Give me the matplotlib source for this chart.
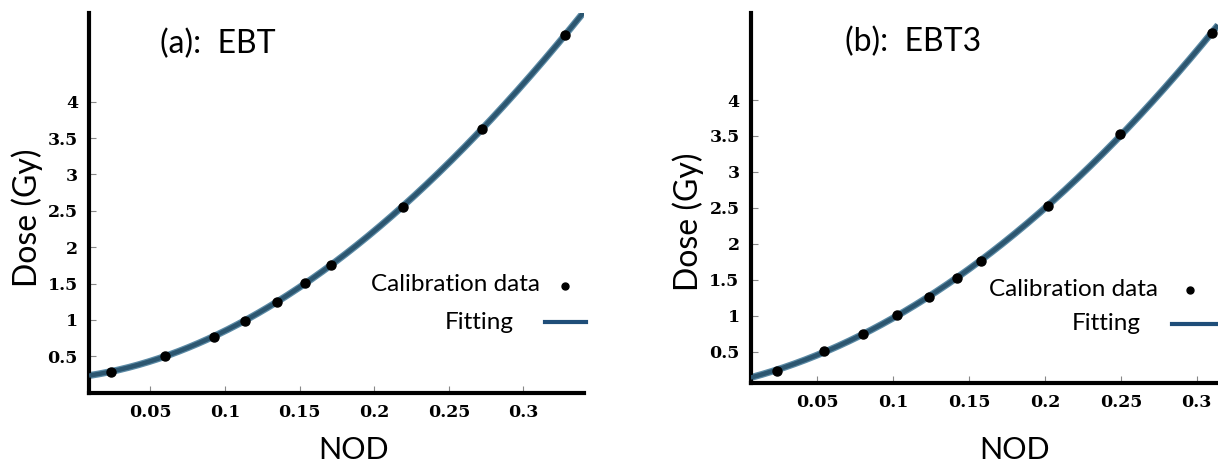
import numpy as np
import matplotlib
matplotlib.use("Agg")
import matplotlib.pyplot as plt
from matplotlib.lines import Line2D

# ---- data ----
nod_ebt = [0.0237, 0.0595, 0.0925, 0.1134, 0.135, 0.1539, 0.1709, 0.219, 0.272, 0.328]
dose_ebt = [0.29, 0.505, 0.77, 0.986, 1.25, 1.514, 1.757, 2.556, 3.62, 4.92]

nod_ebt3 = [0.0233, 0.0546, 0.0798, 0.1021, 0.1235, 0.1418, 0.1581, 0.2021, 0.2497, 0.310]
dose_ebt3 = [0.234, 0.509, 0.752, 1.005, 1.262, 1.523, 1.757, 2.53, 3.53, 4.93]

x_ticks = [0.05, 0.1, 0.15, 0.2, 0.25, 0.3]
x_ticklabels = ["0.05", "0.1", "0.15", "0.2", "0.25", "0.3"]
y_ticks = [0.5, 1, 1.5, 2, 2.5, 3, 3.5, 4]
y_ticklabels = ["0.5", "1", "1.5", "2", "2.5", "3", "3.5", "4"]

titles = ["(a):  EBT", "(b):  EBT3"]
legend_labels = ["Calibration data", "Fitting"]
xlabel = "NOD"
ylabel = "Dose (Gy)"

W, H = 1218, 473
fig = plt.figure(figsize=(W / 100, H / 100), dpi=100)
fig.patch.set_facecolor("white")

SANS = ["Lato", "DejaVu Sans"]
CURVE = "#2c5670"
LEGLINE = "#1f4e79"

panels = [
    dict(x=nod_ebt, y=dose_ebt, title=titles[0],
         rect=[89 / W, 1 - 392.7 / H, (584 - 89) / W, (392.7 - 13) / H],
         xlim=(0.0088, 0.3406), ylim=(0.0, 5.22),
         title_xy=(218, 44), ylabel_xy=(27, 218), xlabel_xy=(354, 450),
         cal_text=(540, 284), cal_mark=(565, 286),
         fit_text=(514, 322), fit_line=(545, 586, 322)),
    dict(x=nod_ebt3, y=dose_ebt3, title=titles[1],
         rect=[750.7 / W, 1 - 383.3 / H, (1218 - 750.7) / W, (383.3 - 13) / H],
         xlim=(0.006, 0.314), ylim=(0.06, 5.21),
         title_xy=(913, 42), ylabel_xy=(688, 222), xlabel_xy=(1015, 450),
         cal_text=(1158, 290), cal_mark=(1190, 290),
         fit_text=(1141, 324), fit_line=(1172, 1218, 324)),
]

def fx(px):
    return px / W

def fy(py):
    return 1 - py / H

for p in panels:
    ax = fig.add_axes(p["rect"])
    ax.set_xlim(*p["xlim"])
    ax.set_ylim(*p["ylim"])
    # fitted curve from calibration data
    coef = np.polyfit(p["x"], p["y"], 3)
    xs = np.linspace(p["xlim"][0], p["xlim"][1], 300)
    ax.plot(xs, np.polyval(coef, xs), color="#5b8aa5", lw=5.0, solid_capstyle="butt", zorder=2)
    ax.plot(xs, np.polyval(coef, xs), color=CURVE, lw=3.2, solid_capstyle="butt", zorder=3)
    ax.plot(p["x"], p["y"], "o", color="black", ms=6.5, zorder=4)

    for s in ["top", "right"]:
        ax.spines[s].set_visible(False)
    for s in ["left", "bottom"]:
        ax.spines[s].set_linewidth(3.0)
        ax.spines[s].set_color("black")
    ax.set_xticks(x_ticks)
    ax.set_xticklabels(x_ticklabels)
    ax.set_yticks(y_ticks)
    ax.set_yticklabels(y_ticklabels)
    ax.tick_params(direction="in", length=5, width=0.8, color="#888888",
                   labelsize=12.5, pad=8)
    for lab in ax.get_xticklabels() + ax.get_yticklabels():
        lab.set_family("DejaVu Serif")
        lab.set_fontweight("bold")

    fig.text(fx(p["title_xy"][0]), fy(p["title_xy"][1]), p["title"], family=SANS,
             fontsize=23, ha="center", va="center")
    fig.text(fx(p["ylabel_xy"][0]), fy(p["ylabel_xy"][1]), ylabel, family=SANS,
             fontsize=23, ha="center", va="center", rotation=90)
    fig.text(fx(p["xlabel_xy"][0]), fy(p["xlabel_xy"][1]), xlabel, family=SANS,
             fontsize=22, ha="center", va="center")
    fig.text(fx(p["cal_text"][0]), fy(p["cal_text"][1]), legend_labels[0], family=SANS,
             fontsize=17.5, ha="right", va="center")
    fig.add_artist(Line2D([fx(p["cal_mark"][0])], [fy(p["cal_mark"][1])], marker="o",
                          color="black", ms=5, linestyle="none"))
    fig.text(fx(p["fit_text"][0]), fy(p["fit_text"][1]), legend_labels[1], family=SANS,
             fontsize=17.5, ha="right", va="center")
    fl = p["fit_line"]
    fig.add_artist(Line2D([fx(fl[0]), fx(fl[1])], [fy(fl[2]), fy(fl[2])],
                          color=LEGLINE, lw=3))

fig.savefig("out.png", dpi=100, facecolor="white")
